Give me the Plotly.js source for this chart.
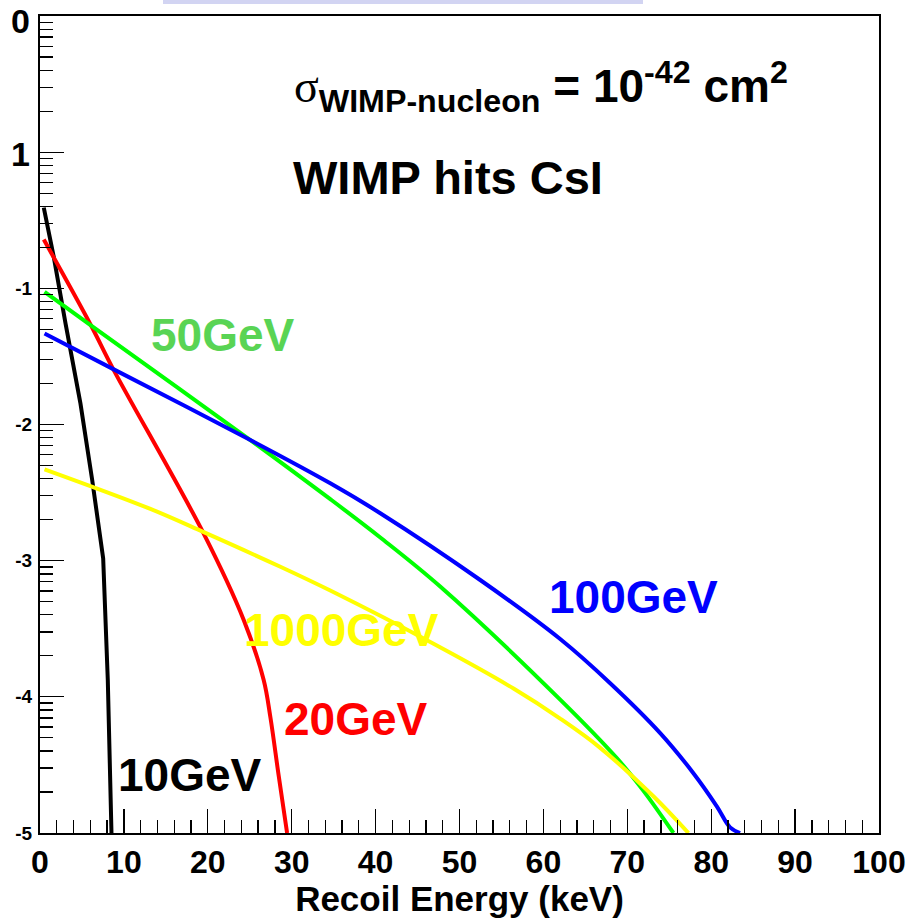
<!DOCTYPE html>
<html>
<head>
<meta charset="utf-8">
<script src="https://cdn.plot.ly/plotly-3.0.1.min.js"></script>
<style>html,body{margin:0;padding:0;background:#fff;}#chart{width:912px;height:918px;}</style>
</head>
<body>
<div id="chart"></div>
<script>
// ---- data ----
const seriesNames = ['10GeV', '20GeV', '50GeV', '100GeV', '1000GeV'];

const x10 = [0.45, 1.64, 3.04, 4.82, 6.22, 6.81, 7.53, 8.08, 8.52];
const y10 = [0.392, 0.170, 0.0552, 0.0143, 0.00391, 0.00223, 0.00104, 1.33e-4, 1.0e-5];

const x20 = [0.45, 6.02, 8.79, 19.51, 24.28, 26.66, 27.46, 28.45, 29.45];
const y20 = [0.228, 0.0543, 0.0251, 0.00158, 3.67e-4, 1.33e-4, 7.08e-5, 2.63e-5, 1.0e-5];

const x50 = [0.54, 6.02, 25.07, 34.6, 40.56, 47.7, 62.0, 68.75, 71.93, 75.5];
const y50 = [0.0942, 0.0536, 0.00769, 0.00283, 0.00148, 6.46e-4, 9.55e-5, 3.55e-5, 2.04e-5, 1.0e-5];

const x100 = [0.54, 8.79, 25.07, 34.6, 40.56, 52.47, 62.0, 67.96, 73.92, 77.88, 80.67, 82.25, 83.44];
const y100 = [0.0466, 0.0254, 0.00769, 0.00370, 0.00223, 7.21e-4, 2.66e-4, 1.26e-4, 5.42e-5, 2.75e-5, 1.57e-5, 1.10e-5, 1.0e-5];

const x1000 = [0.54, 13.16, 19.51, 28.65, 34.6, 46.91, 56.44, 62.0, 66.77, 73.11, 77.29];
const y1000 = [0.00469, 0.00240, 0.00162, 9.02e-4, 6.03e-4, 2.45e-4, 1.15e-4, 6.92e-5, 4.22e-5, 1.86e-5, 1.0e-5];

const xTickVals = [0, 10, 20, 30, 40, 50, 60, 70, 80, 90, 100];
const yTickVals = [1e-5, 1e-4, 1e-3, 1e-2, 1e-1, 1, 10];
const yTickText = ['-5', '-4', '-3', '-2', '-1', '1', '0'];

// ---- styling ----
const lineColors = ['#000000', '#ff0000', '#00ff00', '#0000ff', '#ffff00'];
const labelColors = ['#000000', '#ff0000', 'rgb(89,212,84)', '#0000ff', '#ffff00'];
const FONT = 'Liberation Sans, Arial, Helvetica, sans-serif';

const xs = [x10, x20, x50, x100, x1000];
const ys = [y10, y20, y50, y100, y1000];
const shapes = ['linear', 'spline', 'spline', 'spline', 'spline'];

const traces = xs.map((xv, i) => ({
  x: xv, y: ys[i], type: 'scatter', mode: 'lines', name: seriesNames[i],
  line: {color: lineColors[i], width: 4, shape: shapes[i], smoothing: 1},
  hoverinfo: 'skip'
}));

// minor log ticks
const yMinor = [];
for (let e = -5; e < 1; e++) for (let d = 2; d <= 9; d++) yMinor.push(d * Math.pow(10, e));

// small labels on the axis itself; the two large ones are drawn as annotations
const ticktext = yTickText.map((t, i) => i >= 5 ? ' ' : t);

// pixel helpers for annotation placement (plot frame: x 40..879, y 16..833)
const L = 40, R = 879, T = 16, B = 833;
const px = v => (v - L) / (R - L);
const py = v => (B - v) / (B - T);

const labelPos = [[117, 775], [283, 719], [150, 335], [548, 597], [243, 630]];
const annotations = labelPos.map((p, i) => ({
  xref: 'paper', yref: 'paper', x: px(p[0]), y: py(p[1]), xanchor: 'left', yanchor: 'middle',
  text: seriesNames[i], showarrow: false, borderpad: 0,
  font: {family: FONT, size: 46, color: labelColors[i], weight: 'bold'}
}));
// large tick labels for the two top decades
[[5, 154], [6, 21]].forEach(([idx, yPix]) => annotations.push({
  xref: 'paper', yref: 'paper', x: px(31), y: py(yPix), xanchor: 'right', yanchor: 'middle',
  text: yTickText[idx], showarrow: false, borderpad: 0,
  font: {family: FONT, size: 34, color: '#000', weight: 'bold'}
}));
annotations.push({
  xref: 'paper', yref: 'paper', x: px(293), y: py(86), xanchor: 'left', yanchor: 'middle',
  text: '<span style="font-family:\'Liberation Serif\',serif;font-weight:normal">σ</span><sub>WIMP-nucleon</sub> = 10<sup>-42</sup> cm<sup>2</sup>',
  showarrow: false, borderpad: 0,
  font: {family: FONT, size: 46, color: '#000', weight: 'bold'}
});
annotations.push({
  xref: 'paper', yref: 'paper', x: px(292), y: py(177), xanchor: 'left', yanchor: 'middle',
  text: 'WIMP hits CsI', showarrow: false, borderpad: 0,
  font: {family: FONT, size: 47, color: '#000', weight: 'bold'}
});

const layout = {
  width: 912, height: 918,
  margin: {l: L, r: 912 - R, t: T, b: 918 - B, pad: 0},
  paper_bgcolor: '#fff', plot_bgcolor: '#fff',
  showlegend: false,
  xaxis: {
    range: [0, 100], tickmode: 'array', tickvals: xTickVals,
    ticks: 'inside', ticklen: 24, tickwidth: 1.3, tickcolor: '#000',
    minor: {dtick: 2, ticks: 'inside', ticklen: 13, tickwidth: 1.3, tickcolor: '#000', showgrid: false},
    showline: true, linecolor: '#000', linewidth: 2, mirror: true,
    showgrid: false, zeroline: false,
    tickfont: {family: FONT, size: 32, color: '#000', weight: 'bold'},
    title: {text: 'Recoil Energy (keV)', font: {family: FONT, size: 35, color: '#000', weight: 'bold'}, standoff: 0}
  },
  yaxis: {
    type: 'log', range: [-5, 1], tickmode: 'array', tickvals: yTickVals, ticktext: ticktext,
    ticks: 'inside', ticklen: 24, tickwidth: 1.3, tickcolor: '#000',
    minor: {tickmode: 'array', tickvals: yMinor, ticks: 'inside', ticklen: 13, tickwidth: 1.3, tickcolor: '#000', showgrid: false},
    showline: true, linecolor: '#000', linewidth: 2, mirror: true,
    showgrid: false, zeroline: false,
    tickfont: {family: FONT, size: 19, color: '#000', weight: 'bold'},
    ticklabelstandoff: 2
  },
  shapes: [{
    type: 'rect', xref: 'paper', yref: 'paper', layer: 'above',
    x0: px(163), x1: px(643), y0: py(4), y1: py(0),
    fillcolor: 'rgb(210,212,242)', line: {width: 0}
  }],
  annotations: annotations
};

Plotly.newPlot('chart', traces, layout, {staticPlot: true, displayModeBar: false});
</script>
</body>
</html>
